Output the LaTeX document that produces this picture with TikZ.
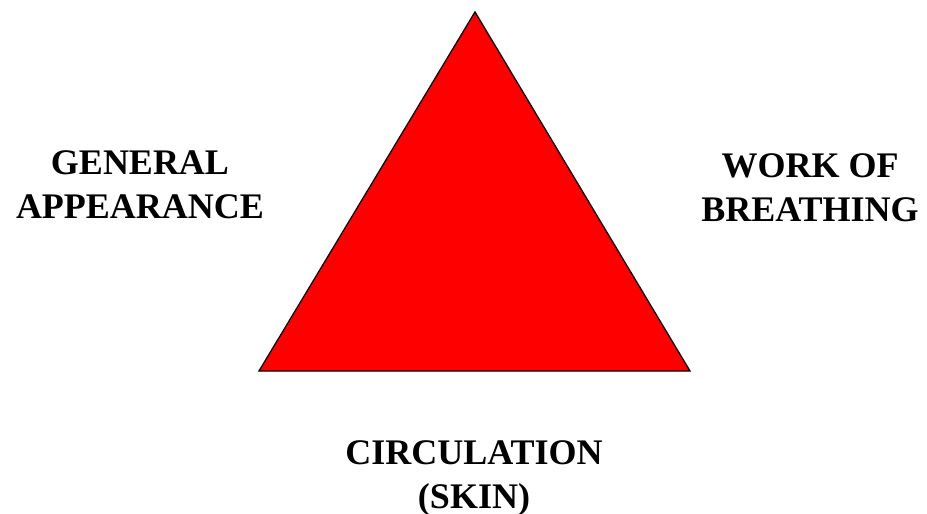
\documentclass[tikz,border=0pt]{standalone}
\usepackage{fontspec}
\setmainfont{Liberation Serif}
\begin{document}
\begin{tikzpicture}[x=1pt,y=-1pt,
  lbl/.style={inner sep=0pt, anchor=north, align=center,
    font=\fontsize{36}{44}\selectfont\bfseries}]
\useasboundingbox (0,0) rectangle (927,514);
\coordinate (apex) at (475,12);
\coordinate (bl) at (259,371);
\coordinate (br) at (690,371);
\draw[fill=red, line width=1.3pt, line join=miter] (apex) -- (bl) -- (br) -- cycle;
\node[lbl] (ga) at (140,150) {GENERAL\\APPEARANCE};
\node[lbl] (wb) at (810,153) {WORK OF\\BREATHING};
\node[lbl] (cs) at (474,440) {CIRCULATION\\(SKIN)};
\end{tikzpicture}
\end{document}
